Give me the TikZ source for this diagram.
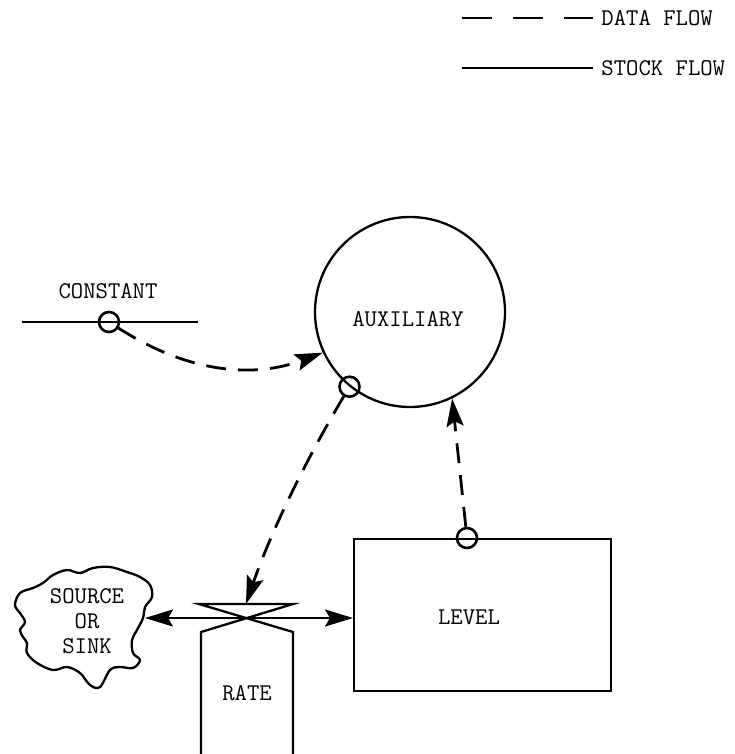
\documentclass[tikz,border=0pt]{standalone}
\usepackage{fontspec}
\usetikzlibrary{arrows.meta}
\begin{document}
\begin{tikzpicture}[x=1pt,y=-1pt,line width=2.3pt,
  every node/.style={font=\fontsize{24}{25}\selectfont\ttfamily},
  dataflow/.style={dash pattern=on 20pt off 12pt,line width=2.8pt,-{Stealth[length=28pt,width=17pt,inset=5pt]}},
  stockflow/.style={line width=2.3pt},
  smallcirc/.style={circle,draw,line width=2.6pt,minimum size=20pt,inner sep=0pt},
  stockarrows/.style={{Stealth[length=28pt,width=17pt,inset=5pt]}-{Stealth[length=28pt,width=17pt,inset=5pt]}}]
\useasboundingbox (0,0) rectangle (735,754);
% legend
\coordinate (dl1) at (462,18); \coordinate (dl2) at (593,18);
\coordinate (sl1) at (462,68); \coordinate (sl2) at (593,68);
\draw[line width=2pt,dash pattern=on 30pt off 21pt] (dl1) -- (dl2);
\draw[line width=2pt] (sl1) -- (sl2);
\node[anchor=west] (datalabel) at (597,18) {DATA FLOW};
\node[anchor=west] (stocklabel) at (597,68) {STOCK FLOW};
% constant
\node (constlabel) at (108,291) {CONSTANT};
\coordinate (constL) at (22,322); \coordinate (constR) at (198,322);
\draw[stockflow] (constL) -- (constR);
\node[smallcirc] (constc) at (109,322) {};
% auxiliary
\node[circle,draw,minimum size=190pt,inner sep=0pt] (aux) at (410,312) {};
\node (auxlabel) at (408,319) {AUXILIARY};
\node[smallcirc] (auxc) at (aux.231) {};
\draw[dataflow] (constc) .. controls (190,374) and (255,378) .. (aux.205);
% level
\node[draw,minimum width=257pt,minimum height=152pt,inner sep=0pt,anchor=north west] (level) at (353,538) {};
\node (levellabel) at (469,617) {LEVEL};
\node[smallcirc] (levc) at (467,538) {};
\draw[dataflow] (levc) -- (aux.296);
% rate valve
\coordinate (vTL) at (199,604); \coordinate (vTR) at (293,604);
\coordinate (vC) at (246,618); \coordinate (vTop) at (246,604);
\coordinate (vBL) at (201,632); \coordinate (vBR) at (293,632);
\coordinate (rL) at (201,754); \coordinate (rR) at (293,754);
\draw (rL) -- (vBL) -- (vTR) -- (vTL) -- (vBR) -- (rR);
\node (ratelabel) at (247,693) {RATE};
\draw[dataflow] (auxc) .. controls (300,470) and (268,540) .. (vTop);
% cloud
\draw plot[smooth cycle,tension=0.6] coordinates {
 (15,605) (20,593) (33,588) (43,583) (53,575) (67,570) (80,573) (93,568)
 (110,567) (127,572) (140,577) (150,585) (152,597) (145,607) (143,618)
 (137,630) (132,640) (133,653) (140,660) (133,668) (120,667) (110,670)
 (100,687) (90,685) (80,673) (67,667) (53,670) (37,663) (27,653) (27,643)
 (23,637) (20,630) (25,622) (20,613)};
\node[align=center] (cloudlabel) at (87,621) {SOURCE\\OR\\SINK};
\coordinate (cloudE) at (145,618);
% stock flow
\draw[stockflow,stockarrows] (cloudE) -- (vC -| level.west);
\end{tikzpicture}
\end{document}
